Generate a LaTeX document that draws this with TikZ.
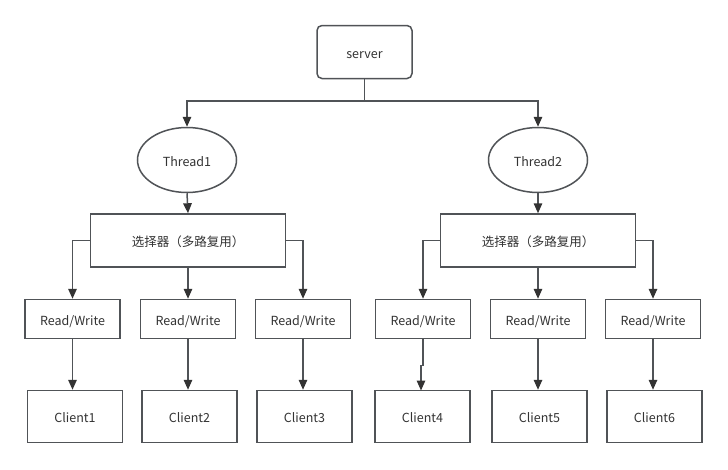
\documentclass[tikz,border=0pt]{standalone}
\usepackage{fontspec}
\setmainfont{Noto Sans CJK SC}
\usetikzlibrary{arrows.meta,shapes.geometric}
\definecolor{ln}{HTML}{505357}
\definecolor{tx}{HTML}{333333}
\tikzset{
  box/.style={draw=ln,line width=1.5pt,fill=white,inner sep=0pt,text=tx,text height=12pt,text depth=0pt,font=\fontsize{12.5}{14}\selectfont},
  rwbox/.style={box,minimum width=95pt,minimum height=39pt},
  clbox/.style={box,minimum width=95pt,minimum height=52pt},
  selbox/.style={box,minimum width=195pt,minimum height=53pt},
  thr/.style={box,ellipse,minimum width=99pt,minimum height=65pt},
  conn/.style={draw=ln,line width=1.5pt},
  arr/.style={conn,-{Triangle[length=10pt,width=8.5pt,color=tx]}}
}
\begin{document}
\begin{tikzpicture}[x=1pt,y=-1pt]
\useasboundingbox[fill=white] (0,0) rectangle (728,469);
\node[box,rounded corners=5pt,minimum width=95pt,minimum height=53pt] (server) at (364.5,52) {server};
\node[thr] (th1) at (187,160) {Thread1};
\node[thr] (th2) at (538,160) {Thread2};
\node[selbox] (sel1) at (188,240.5) {选择器（多路复用）};
\node[selbox] (sel2) at (538,240.5) {选择器（多路复用）};
\node[rwbox] (rw1) at (72.5,319) {Read/Write};
\node[rwbox] (rw2) at (188,319) {Read/Write};
\node[rwbox] (rw3) at (303,319) {Read/Write};
\node[rwbox] (rw4) at (423,319) {Read/Write};
\node[rwbox] (rw5) at (538,319) {Read/Write};
\node[rwbox] (rw6) at (653,319) {Read/Write};
\node[clbox] (cl1) at (75,416.5) {Client1};
\node[clbox] (cl2) at (189.5,416.5) {Client2};
\node[clbox] (cl3) at (304.5,416.5) {Client3};
\node[clbox] (cl4) at (422.5,416.5) {Client4};
\node[clbox] (cl5) at (539.5,416.5) {Client5};
\node[clbox] (cl6) at (654.5,416.5) {Client6};
\coordinate (j) at (364.5,101);
\draw[conn] (server.south) -- (j);
\draw[arr] (j) -| (th1.north);
\draw[arr] (j) -| (th2.north);
\draw[arr] (th1.south) -- (sel1.north);
\draw[arr] (th2.south) -- (sel2.north);
\draw[arr] (sel1.west) -| (rw1.north);
\draw[arr] (sel1.south) -- (rw2.north);
\draw[arr] (sel1.east) -| (rw3.north);
\draw[arr] (sel2.west) -| (rw4.north);
\draw[arr] (sel2.south) -- (rw5.north);
\draw[arr] (sel2.east) -| (rw6.north);
\draw[arr] (rw1.south) -- (rw1.south |- cl1.north);
\draw[arr] (rw2.south) -- (rw2.south |- cl2.north);
\draw[arr] (rw3.south) -- (rw3.south |- cl3.north);
\draw[arr] (rw4.south) -- ++(0,26) -- ++(-2,0) -- (421,390.5);
\draw[arr] (rw5.south) -- (rw5.south |- cl5.north);
\draw[arr] (rw6.south) -- (rw6.south |- cl6.north);
\end{tikzpicture}
\end{document}
